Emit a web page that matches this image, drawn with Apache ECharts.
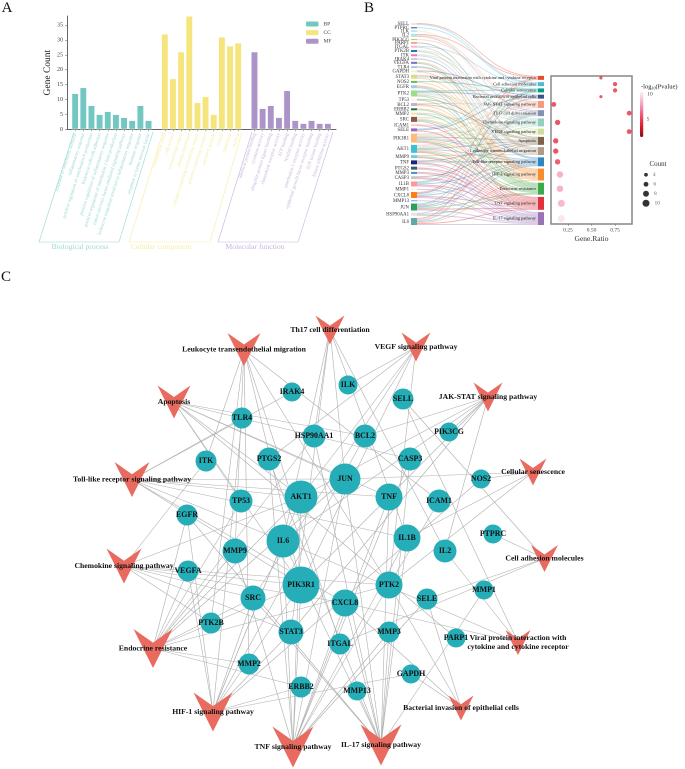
<!DOCTYPE html>
<html><head><meta charset="utf-8">
<style>html,body{margin:0;padding:0;background:#fff}#c{width:685px;height:769px}</style>
<script src="https://cdn.jsdelivr.net/npm/echarts@6/dist/echarts.min.js"></script>
</head><body><div id="c"></div>
<script>
// ---------- Panel A data ----------
const bpTerms = ["response to xenobiotic stimulus","inflammatory response","positive regulation of interleukin-6 production","leukocyte cell-cell adhesion","positive regulation of inflammatory response","positive regulation of interleukin-1 beta production","tumor necrosis factor-mediated signaling pathway","leukocyte migration involved in inflammatory response","immune response","response to tumor necrosis factor"];
const ccTerms = ["extracellular space","cell surface","extracellular region","plasma membrane","collagen-containing extracellular matrix","protein-containing complex","secretory granule","cytosol","membrane","nucleus"];
const mfTerms = ["identical protein binding","cytokine activity","ubiquitin protein ligase binding","chemokine receptor activity","ATP binding","NADH binding","interleukin-1 receptor activity","epidermal growth factor receptor binding","JUN kinase binding","kinase inhibitor activity"];
const bpValues = [12,14,8,5,6,5,4,3,8,3];
const ccValues = [32,17,26,38,9,11,5,31,28,29];
const mfValues = [26,7,8,4,13,3,2,3,2,2];

// ---------- Panel B / C shared data ----------
const geneOrder = ["SELL","PTPRC","ILK","IL2","PIK3CG","PARP1","ITGAL","PTK2B","ITK","IRAK4","VEGFA","TLR4","GAPDH","STAT3","NOS2","EGFR","PTK2","TP53","BCL2","ERBB2","MMP2","SRC","ICAM1","SELE","PIK3R1","AKT1","MMP9","TNF","PTGS2","MMP3","CASP3","IL1B","MMP1","CXCL8","MMP13","JUN","HSP90AA1","IL6"];
const pathwayNames = ["Viral protein interaction with cytokine and cytokine receptor","Cell adhesion molecules","Cellular senescence","Bacterial invasion of epithelial cells","JAK-STAT signaling pathway","Th17 cell differentiation","Chemokine signaling pathway","VEGF signaling pathway","Apoptosis","Leukocyte transendothelial migration","Toll-like receptor signaling pathway","HIF-1 signaling pathway","Endocrine resistance","TNF signaling pathway","IL-17 signaling pathway"];
const pathwayGenes = [
 ["CXCL8","IL2","SELL","IL6"],
 ["SELL","PTPRC","SELE","ITGAL"],
 ["NOS2","JUN","IL1B","PTK2"],
 ["SELE","GAPDH","PTK2","CXCL8"],
 ["IL6","IL2","STAT3","PIK3R1","AKT1","BCL2","PIK3CG"],
 ["JUN","IL6","IL1B","STAT3","HSP90AA1","IL2"],
 ["PIK3R1","AKT1","SRC","CXCL8","PTK2","PTK2B","ITK","STAT3"],
 ["PIK3R1","AKT1","SRC","PTK2","PTGS2","ILK"],
 ["TP53","JUN","AKT1","CASP3","BCL2","PIK3R1","TNF","PARP1"],
 ["ITK","MMP2","MMP9","PIK3R1","PTK2","ITGAL","PTK2B","ICAM1"],
 ["TLR4","IRAK4","JUN","AKT1","PIK3R1","IL6","CXCL8","IL1B","TNF"],
 ["PIK3R1","AKT1","IL6","STAT3","EGFR","ERBB2","VEGFA","TLR4","GAPDH","BCL2","NOS2","SRC"],
 ["PIK3R1","AKT1","JUN","SRC","TP53","EGFR","ERBB2","MMP2","MMP9","PTK2","HSP90AA1","VEGFA"],
 ["AKT1","PIK3R1","JUN","TNF","IL6","IL1B","ICAM1","CASP3","MMP3","MMP9","PTGS2","SELE","CXCL8"],
 ["JUN","TNF","IL6","IL1B","CXCL8","MMP1","MMP3","MMP13","PTGS2","HSP90AA1","CASP3","EGFR","SRC"]
];
const geneRatio = [0.6,0.75,0.75,0.6,0.1,0.9,0.14,0.9,0.12,0.12,0.14,0.165,0.165,0.18,0.18];
const pathwayCount = [3,5,5,3,6,6,7,6,7,7,7,9,9,10,10];
const logP = [4.2,4.2,4.2,4.2,4.2,4.2,4.2,4.2,4.2,4.2,4.6,7.9,7.9,8.1,9.9];
const countLegend = [4,6,8,10];

// ---------- Styling / layout tables (not data) ----------
const geneColors = ["#F3E6D6","#2B4CB0","#7ED6E0","#AEE3F0","#C8C820","#E05060","#F7B6D2","#1F77B4","#E377C2","#9AA0A0","#7B6FC4","#AEC7E8","#F7F0D0","#DBDB8D","#6ABF4B","#AEC7E8","#98DF8A","#FFF0E8","#C5B0D5","#1A7A2E","#FFE0A0","#8C564B","#FFD0C0","#9467BD","#FFBB78","#3DBFD9","#6CCFE6","#1A237E","#3B5F5F","#3F8FDF","#C7C7C7","#FF9896","#F5F5D5","#FF7F0E","#6F9FE0","#2CA05A","#E8E0F0","#5FA8A8"];
const pathwayColors = ["#E64B35","#4DBBD5","#00A087","#3C5488","#F39B7F","#8491B4","#91D1C2","#CEDD9B","#7E6148","#B09C85","#2E86C1","#F68E2F","#3CAA46","#E0323C","#9B72B5"];
const genePos = {IRAK4:[292,392],ILK:[348,385],TLR4:[242,418],HSP90AA1:[314,436],BCL2:[365,436],ITK:[206,461],PTGS2:[269,459],JUN:[345,479],AKT1:[301,497],TP53:[241,501],EGFR:[187,515],IL6:[283,541],SELL:[403,399],PIK3CG:[449,432],CASP3:[410,459],TNF:[389,497],ICAM1:[439,501],NOS2:[481,479],PTPRC:[493,534],IL1B:[407,538],IL2:[445,551],MMP9:[235,551],VEGFA:[188,571],SRC:[253,598],PIK3R1:[301,585],CXCL8:[345,603],PTK2:[389,585],SELE:[427,599],MMP1:[484,590],PTK2B:[211,623],STAT3:[291,632],ITGAL:[340,644],MMP3:[389,632],PARP1:[456,638],MMP2:[249,664],GAPDH:[411,674],ERBB2:[301,687],MMP13:[357,691]};
const geneSize = {PIK3R1:37,IL6:33,JUN:31,AKT1:33,TNF:27,IL1B:27,PTK2:27,CXCL8:27,STAT3:25,SRC:25,MMP9:25,HSP90AA1:23,BCL2:23,CASP3:23,TP53:23,ICAM1:23,IL2:23,PTGS2:23,TLR4:21,ITK:21,EGFR:21,VEGFA:21,MMP2:21,PTK2B:21,ITGAL:21,MMP3:21,SELE:21,ERBB2:21,MMP1:19,MMP13:19,GAPDH:19,PARP1:19,PTPRC:19,NOS2:19,PIK3CG:19,SELL:21,ILK:19,IRAK4:19};
const pathwayPos = [[518,642.5],[544.5,558.5],[533,472],[461,708],[488,397],[330,330],[124,566],[416,347],[174,402],[244,349.5],[132,479.5],[213,712],[153,648.5],[293,747],[381,745]];
const pathwaySize = [25,27,27,25,29,29,35,29,33,33,35,39,39,41,41];
const networkLabels = pathwayNames.map((n,i)=> i===0 ? "Viral protein interaction with\ncytokine and cytokine receptor" : n);

const serif = "Liberation Serif";
const BPC="#72C7C3", CCC="#F5E57C", MFC="#AC94C8";
const BPL="#9BD8D5", CCL="#F8EDA5", MFL="#C8B6DC";

// Panel A: slots with blank separators
const barCats = [" "].concat(bpTerms,["  "],ccTerms,["   "],mfTerms,["    "]);
const pad = (before,vals,after)=> Array(before).fill(null).concat(vals,Array(after).fill(null));
const labelColor = (v)=> bpTerms.includes(v)?BPL: ccTerms.includes(v)?CCL: MFL;

// Panel B geometry derived from counts
const sk = {left:411, top:23, width:133, height:202, nodeW:6, gap:2.3};
const totalLinks = pathwayGenes.reduce((s,a)=>s+a.length,0);
const ky = (sk.height - (geneOrder.length-1)*sk.gap)/totalLinks;
const rightY = [];
(function(){ let cur = sk.height;
  for(let i=pathwayNames.length-1;i>=0;i--){ const h=pathwayGenes[i].length*ky; cur-=h; rightY[i]=cur; cur-=sk.gap; }
})();
const rightCenter = pathwayNames.map((_,i)=> sk.top + rightY[i] + pathwayGenes[i].length*ky/2);

const sankeyNodes = geneOrder.map((g,i)=>({name:g,itemStyle:{color:geneColors[i]},
    label:{position:'left',distance:2,fontSize:4.8,color:'#333'}}))
  .concat(pathwayNames.map((p,i)=>({name:p,localX:(sk.width-sk.nodeW)/sk.width,localY:rightY[i]/sk.height,
    itemStyle:{color:pathwayColors[i]},label:{position:'left',distance:2,fontSize:4.4,color:'#222'}})));
const sankeyLinks = [];
pathwayGenes.forEach((gs,i)=>gs.forEach(g=>sankeyLinks.push({source:g,target:pathwayNames[i],value:1})));

// Panel C
const netNodes = geneOrder.map(g=>({name:g,value:genePos[g],symbol:'circle',symbolSize:geneSize[g],
    itemStyle:{color:'#25AEB8'},label:{show:true,position:'inside',fontSize:7.9,fontWeight:'bold',color:'#111',fontFamily:serif}}))
  .concat(pathwayNames.map((p,i)=>({name:'p:'+p,value:pathwayPos[i],symbol:'path://M0 0L50 35L100 0L50 100Z',symbolSize:pathwaySize[i],
    itemStyle:{color:'#E96B60'},label:{show:true,position:'inside',formatter:networkLabels[i],fontSize:7.7,lineHeight:9,fontWeight:'bold',color:'#111',fontFamily:serif,align:'center'}})));
const netLinks = [];
pathwayGenes.forEach((gs,i)=>gs.forEach(g=>netLinks.push({source:g,target:'p:'+pathwayNames[i]})));

const sizeOf = c=> c*0.55+1.5;

const para = (pts,col)=>({type:'polyline',silent:true,shape:{points:pts},style:{stroke:col,lineWidth:0.6,fill:null}});
const txt = (x,y,t,size,col,extra)=>({type:'text',silent:true,x:x,y:y,style:Object.assign({text:t,fontFamily:serif,fontSize:size,fill:col,align:'center',verticalAlign:'middle'},extra||{})});

const option = {
  animation:false,
  backgroundColor:'#fff',
  textStyle:{fontFamily:serif},
  legend:{data:['BP','CC','MF'],orient:'vertical',left:306,top:21,padding:0,itemWidth:12.5,itemHeight:5,itemGap:2.6,
          itemStyle:{borderWidth:0},textStyle:{fontSize:5.5,color:'#444',fontFamily:serif},selectedMode:false},
  grid:[
    {left:67,top:16,width:269,height:113.3},
    {left:551,top:76,width:81,height:148,show:true,borderColor:'#888',borderWidth:1.5,backgroundColor:'transparent'},
    {left:640,top:170,width:12,height:38},
    {left:0,top:0,width:685,height:769}
  ],
  xAxis:[
    {gridIndex:0,type:'category',data:barCats,boundaryGap:false,
     axisLine:{lineStyle:{color:'#666',width:1}},
     axisTick:{length:2,interval:(i,v)=>v.trim()!=='',lineStyle:{color:'#666',width:0.5}},
     axisLabel:{interval:0,rotate:72,fontSize:4.8,margin:4,color:labelColor,fontFamily:serif}},
    {gridIndex:1,type:'value',min:0.07,max:0.93,splitLine:{show:false},
     name:'Gene.Ratio',nameLocation:'middle',nameGap:11,nameTextStyle:{fontSize:7.5,color:'#333',fontFamily:serif},
     axisLine:{show:false},
     axisTick:{length:2,customValues:[0.25,0.5,0.75],lineStyle:{color:'#666',width:0.5}},
     axisLabel:{customValues:[0.25,0.5,0.75],formatter:v=>v.toFixed(2),fontSize:5.5,margin:3,color:'#444',showMinLabel:true,showMaxLabel:true}},
    {gridIndex:2,type:'value',show:false,min:0,max:1},
    {gridIndex:3,type:'value',show:false,min:0,max:685}
  ],
  yAxis:[
    {gridIndex:0,type:'value',min:0,max:38,interval:5,splitLine:{show:false},
     name:'Gene Count',nameLocation:'middle',nameGap:14.5,nameRotate:90,nameTextStyle:{fontSize:9.5,color:'#222',fontFamily:serif},
     axisLine:{show:true,lineStyle:{color:'#666',width:1}},
     axisTick:{show:true,length:2,lineStyle:{color:'#666',width:0.5}},
     axisLabel:{fontSize:6,margin:4,color:'#444',showMaxLabel:false}},
    {gridIndex:1,type:'value',min:76,max:224,inverse:true,show:false},
    {gridIndex:2,type:'category',inverse:true,show:false,data:countLegend.map(String)},
    {gridIndex:3,type:'value',show:false,inverse:true,min:0,max:769}
  ],
  visualMap:[{type:'continuous',seriesIndex:6,dimension:2,min:1.4,max:10.4,left:640,top:92,itemWidth:3.3,itemHeight:45,padding:0,
    calculable:false,text:null,showLabel:false,inRange:{color:['#8b0c18','#e11f2b','#f1587a','#f6a8c4','#fdf0f5']}}],
  series:[
    {name:'BP',type:'bar',xAxisIndex:0,yAxisIndex:0,barWidth:6.9,barGap:'-100%',data:pad(1,bpValues,23),itemStyle:{color:BPC,borderColor:'#fff',borderWidth:0.5}},
    {name:'CC',type:'bar',xAxisIndex:0,yAxisIndex:0,barWidth:6.9,barGap:'-100%',data:pad(12,ccValues,12),itemStyle:{color:CCC,borderColor:'#fff',borderWidth:0.5}},
    {name:'MF',type:'bar',xAxisIndex:0,yAxisIndex:0,barWidth:6.9,barGap:'-100%',data:pad(23,mfValues,1),itemStyle:{color:MFC,borderColor:'#fff',borderWidth:0.5}},
    {type:'sankey',left:sk.left,top:sk.top,width:sk.width,height:sk.height,nodeWidth:sk.nodeW,nodeGap:sk.gap,layoutIterations:0,
     draggable:false,emphasis:{disabled:true},data:sankeyNodes,links:sankeyLinks,
     label:{fontFamily:serif},lineStyle:{color:'target',opacity:0.36,curveness:0.5}},
    {type:'graph',coordinateSystem:'cartesian2d',xAxisIndex:3,yAxisIndex:3,layout:'none',data:netNodes,links:netLinks,
     lineStyle:{color:'#b0b0b0',width:0.6,opacity:1,curveness:0},emphasis:{disabled:true},silent:true,z:2},
    {type:'scatter',xAxisIndex:2,yAxisIndex:2,data:countLegend.map((c,i)=>[0.5,i,c]),symbolSize:d=>sizeOf(d[2]),
     itemStyle:{color:'#000'},label:{show:true,position:'right',distance:5,fontSize:5.5,color:'#444',formatter:p=>p.data[2]}},
    {type:'scatter',xAxisIndex:1,yAxisIndex:1,data:geneRatio.map((r,i)=>[r,rightCenter[i],logP[i],pathwayCount[i]]),
     encode:{x:0,y:1},symbolSize:d=>sizeOf(d[3])}
  ],
  graphic:[
    txt(7,8,'A',15,'#111'),txt(369,8,'B',15,'#111'),txt(6,277,'C',15,'#111'),
    para([[74,132],[39,242],[119,242],[153,132]],BPL),
    para([[163,132],[129,242],[210,242],[242,132]],CCL),
    para([[252,132],[218,242],[298,242],[333,132]],MFL),
    txt(80,247,'Biological process',7.7,BPL),
    txt(161,247,'Cellular component',7.7,CCL),
    txt(255,247,'Molecular function',7.7,MFL),
    {type:'text',silent:true,x:641,y:87,style:{text:'{a|-log}{s|10}{a|(Pvalue)}',fontFamily:serif,fill:'#222',verticalAlign:'middle',
       rich:{a:{fontSize:6.5,fontFamily:serif,fill:'#222'},s:{fontSize:4,fontFamily:serif,fill:'#222',verticalAlign:'bottom',padding:[3,0,0,0]}}}},
    txt(650,94,'10',5.5,'#444'),txt(648,119,'5',5.5,'#444'),
    txt(658,164,'Count',7,'#333')
  ]
};
const chart = echarts.init(document.getElementById('c'),null,{renderer:'canvas',devicePixelRatio:2});
chart.setOption(option);
</script></body></html>
